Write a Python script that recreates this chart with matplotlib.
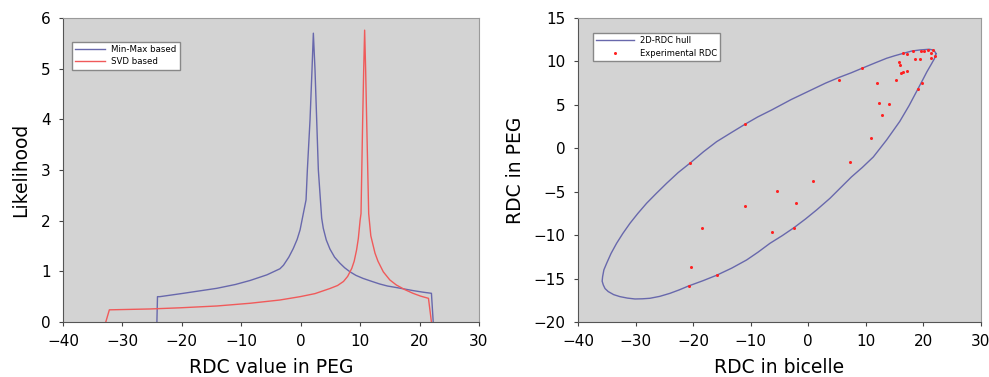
import matplotlib
matplotlib.use("Agg")
import matplotlib.pyplot as plt

# left panel: likelihood curves
minmax_x = [-24.2, -24.1, -23.7, -19.75, -14.1, -11.0, -8.5, -5.7, -3.5, -2.9,
            -2.0, -1.25, -0.6, -0.1, 0.44, 0.9, 1.12, 1.57, 1.9, 2.13, 2.41,
            2.69, 2.97, 3.53, 3.8, 4.3, 4.92, 5.7, 6.6, 7.4, 8.3, 9.3, 10.5,
            12.0, 13.3, 14.6, 16.1, 17.5, 18.9, 20.5, 22.0, 22.3]
minmax_y = [0.0, 0.50, 0.50, 0.566, 0.665, 0.74, 0.82, 0.93, 1.05, 1.12,
            1.28, 1.45, 1.63, 1.82, 2.14, 2.41, 3.0, 3.99, 4.97, 5.70, 4.97,
            3.99, 3.0, 2.05, 1.85, 1.62, 1.44, 1.28, 1.16, 1.07, 0.99, 0.92,
            0.86, 0.80, 0.75, 0.71, 0.68, 0.65, 0.62, 0.59, 0.566, 0.0]

svd_x = [-32.8, -32.2, -25.4, -20.3, -14.1, -8.5, -3.5, -0.1, 2.4, 4.9, 6.2,
         7.2, 7.9, 8.6, 9.0, 9.4, 9.7, 10.0, 10.15, 10.43, 10.6, 10.76, 10.93,
         11.1, 11.44, 11.8, 12.5, 13.0, 13.9, 15.0, 16.1, 17.5, 18.9, 20.2,
         21.5, 22.0]
svd_y = [0.0, 0.24, 0.257, 0.28, 0.316, 0.37, 0.434, 0.50, 0.56, 0.66, 0.72,
         0.80, 0.90, 1.06, 1.20, 1.42, 1.65, 2.01, 2.14, 3.99, 4.97, 5.76, 4.97,
         3.99, 2.14, 1.70, 1.36, 1.20, 0.99, 0.83, 0.73, 0.64, 0.566, 0.51,
         0.467, 0.0]

# right panel: hull outline and experimental points
hull_x = [22.2, 21.8, 21.0, 19.4, 18.0, 16.5, 15.0, 13.6, 11.5, 9.3, 7.5, 5.4,
          3.0, 0.0, -3.0, -6.36, -8.8, -11.0, -13.5, -15.92, -18.2, -20.43,
          -22.6, -24.6, -26.4, -28.08, -29.6, -30.97, -32.2, -33.29, -34.25,
          -35.02, -35.5, -35.72, -35.8, -35.6, -35.3, -34.74, -33.8, -32.71,
          -31.4, -30.1, -28.8, -27.5, -25.8, -24.02, -22.4, -20.78, -18.3,
          -15.92, -13.3, -10.71, -8.7, -6.65, -4.5, -2.48, -0.5, 1.45, 3.77,
          5.6, 7.5, 9.4, 11.3, 13.6, 15.9, 17.5, 19.1, 19.9, 20.6, 21.3, 21.9,
          22.2]
hull_y = [10.9, 11.3, 11.4, 11.32, 11.2, 10.93, 10.65, 10.36, 9.8, 9.2, 8.7,
          8.17, 7.5, 6.55, 5.6, 4.41, 3.6, 2.76, 1.75, 0.76, -0.4, -1.65,
          -2.8, -4.03, -5.2, -6.33, -7.5, -8.64, -9.8, -10.94, -12.1,
          -13.24, -14.0, -14.78, -15.3, -15.74, -16.15, -16.5, -16.85, -17.08,
          -17.25, -17.35, -17.33, -17.27, -17.05, -16.7, -16.3, -15.85, -15.25,
          -14.62, -13.8, -12.86, -11.95, -10.94, -10.05, -9.14, -8.15, -7.1,
          -5.76, -4.55, -3.3, -2.2, -1.0, 0.95, 3.1, 4.9, 6.9, 7.9, 8.8, 9.6,
          10.3, 10.9]

exp_x = [-20.55, -11.0, 5.4, 9.27, 12.0, 12.34, 14.02, 12.75, 10.9, 7.25, 0.82,
         -5.49, -2.13, -11.0, -18.52, -6.36, -2.48, -20.32, -15.92, -20.78,
         15.3, 15.76, 15.94, 16.17, 16.46, 17.15, 16.46, 17.21, 18.25, 18.48,
         19.41, 19.59, 20.1, 20.86, 21.61, 21.26, 21.26, 22.02, 19.76, 19.12]
exp_y = [-1.66, 2.8, 7.86, 9.2, 7.48, 5.25, 5.04, 3.82, 1.22, -1.62, -3.77,
         -4.88, -6.34, -6.61, -9.14, -9.6, -9.14, -13.7, -14.59, -15.82,
         7.9, 9.9, 9.63, 8.63, 8.78, 8.86, 10.97, 10.82, 11.24, 10.24,
         10.32, 11.24, 11.24, 11.28, 11.28, 10.93, 10.4, 10.63, 7.56, 6.87]

BLUE = "#6868ac"
RED = "#f05a5a"
BG = "#d3d3d3"


def style(ax):
    ax.set_facecolor(BG)
    for s in ("left", "bottom"):
        ax.spines[s].set_color("#555555")
    for s in ("top", "right"):
        ax.spines[s].set_color("#9a9a9a")
    ax.tick_params(direction="out", length=3, width=0.8, colors="#444444",
                   labelsize=11, labelcolor="black", pad=6)


fig = plt.figure(figsize=(9.89, 3.77), dpi=100)
ax1 = fig.add_axes([0.0637, 0.1459, 0.4206, 0.8064])
ax2 = fig.add_axes([0.5844, 0.1459, 0.4075, 0.8064])

style(ax1)
ax1.plot(minmax_x, minmax_y, color=BLUE, lw=1.0, label="Min-Max based")
ax1.plot(svd_x, svd_y, color=RED, lw=1.0, label="SVD based")
ax1.set_xlim(-40, 30); ax1.set_ylim(0, 6)
ax1.set_xticks(range(-40, 31, 10)); ax1.set_yticks(range(0, 7))
ax1.set_xlabel("RDC value in PEG", fontsize=13.5, labelpad=6)
ax1.set_ylabel("Likelihood", fontsize=13.5, labelpad=8)
ax1.legend(loc="upper left", bbox_to_anchor=(0.021, 0.922), borderaxespad=0,
           fontsize=6.2, handlelength=3.5, handletextpad=0.7, fancybox=False,
           framealpha=1, edgecolor="#888888", labelspacing=0.35)

style(ax2)
ax2.plot(hull_x, hull_y, color=BLUE, lw=1.0, label="2D-RDC hull")
ax2.plot(exp_x, exp_y, "o", color="#ff2020", ms=2.2, mew=0, label="Experimental RDC")
ax2.set_xlim(-40, 30); ax2.set_ylim(-20, 15)
ax2.set_xticks(range(-40, 31, 10)); ax2.set_yticks(range(-20, 16, 5))
ax2.set_xlabel("RDC in bicelle", fontsize=13.5, labelpad=6)
ax2.set_ylabel("RDC in PEG", fontsize=13.5, labelpad=6)
ax2.legend(loc="upper left", bbox_to_anchor=(0.037, 0.951), borderaxespad=0,
           fontsize=6, handlelength=4.5, handletextpad=0.7, fancybox=False,
           framealpha=1, edgecolor="#888888", labelspacing=0.45)

fig.savefig("out.png", dpi=100, facecolor="white")
